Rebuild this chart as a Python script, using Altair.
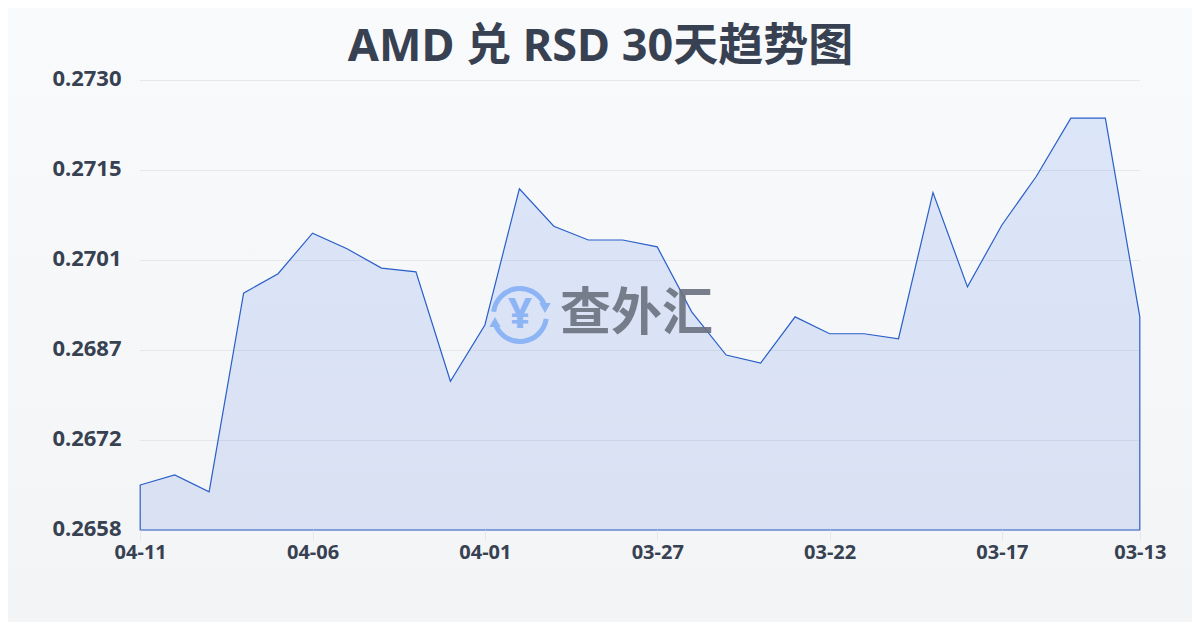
import altair as alt
import pandas as pd

dates = ["04-11","04-10","04-09","04-08","04-07","04-06","04-05","04-04","04-03","04-02",
         "04-01","03-31","03-30","03-29","03-28","03-27","03-26","03-25","03-24","03-23",
         "03-22","03-21","03-20","03-19","03-18","03-17","03-16","03-15","03-14","03-13"]
values = [0.26652,0.26668,0.26641,0.26959,0.26990,0.27055,0.27030,0.26999,0.26993,0.26818,
          0.26908,0.27126,0.27066,0.27044,0.27044,0.27033,0.26929,0.26860,0.26847,0.26921,
          0.26894,0.26894,0.26886,0.27120,0.26969,0.27068,0.27146,0.27239,0.27239,0.26921]
x_ticks = ["04-11","04-06","04-01","03-27","03-22","03-17","03-13"]
y_ticks = [0.2658,0.26724,0.26868,0.27012,0.27156,0.2730]
y_labels = ["0.2658","0.2672","0.2687","0.2701","0.2715","0.2730"]
title_text = "AMD 兑 RSD 30天趋势图"
brand = "查外汇"

FONT = "Noto Sans, Noto Sans CJK SC"
W, H = 1000, 450
df = pd.DataFrame({"date": dates, "value": values})
yscale = alt.Scale(domain=[0.2658, 0.2730], nice=False, zero=False)

xenc = alt.X("date:N", sort=None, scale=alt.Scale(type="point", padding=0, range=[0.2, 999.8]),
             axis=alt.Axis(values=x_ticks, labelAngle=0, title=None, domain=False, zindex=1,
                           tickColor="#e5e7eb", tickSize=10, labelPadding=2, labelFont=FONT,
                           labelFontSize=20, labelFontWeight="bold", labelColor="#374151", grid=False))
label_expr = "[" + ",".join(f"'{s}'" for s in y_labels) + "][round((datum.value-0.2658)/0.00144)]"
yaxis = alt.Axis(values=y_ticks, labelExpr=label_expr, title=None, domain=False, ticks=False, zindex=1,
                 grid=False, labelPadding=19, labelOffset=-2, labelFont=FONT,
                 labelFontSize=22, labelFontWeight="bold", labelColor="#374151")
yenc = alt.Y("value:Q", stack=None, scale=yscale, axis=yaxis)

bg = alt.Chart(pd.DataFrame({"a": [0]})).mark_rect(
    clip=False,
    color=alt.Gradient(gradient="linear", x1=0, x2=0, y1=0, y2=1,
                       stops=[alt.GradientStop(color="#f8fafc", offset=0),
                              alt.GradientStop(color="#f3f4f6", offset=1)])
).encode(x=alt.value(-140), x2=alt.value(1060), y=alt.value(-80), y2=alt.value(550))

grid = alt.Chart(pd.DataFrame({"v": y_ticks})).mark_rule(color="#e5e7eb", strokeWidth=1, yOffset=0.5).encode(
    y=alt.Y("v:Q", scale=yscale, axis=yaxis)
)

area = alt.Chart(df).mark_area(
    stroke="#2a5fc9", strokeWidth=1.2,
    color=alt.Gradient(gradient="linear", x1=0, x2=0, y1=0, y2=1,
                       stops=[alt.GradientStop(color="#2563eb", offset=0),
                              alt.GradientStop(color="#2257d0", offset=1)]),
    fillOpacity=0.13
).encode(x=xenc, y=yenc, y2=alt.value(450))

title = alt.Chart(pd.DataFrame({"t": [title_text]})).mark_text(
    font=FONT, fontSize=45, fontWeight="bold", color="#374151", align="center", baseline="middle"
).encode(text="t:N", x=alt.value(460.5), y=alt.value(-33))

wm_text = alt.Chart(pd.DataFrame({"t": [brand]})).mark_text(
    font=FONT, fontSize=51, fontWeight="bold", color="#6b7280", opacity=0.9, align="left", baseline="middle"
).encode(text="t:N", x=alt.value(420), y=alt.value(235))

yen = alt.Chart(pd.DataFrame({"t": ["¥"]})).mark_text(
    font=FONT, fontSize=42, fontWeight="bold", color="#8db4f5", align="center", baseline="middle"
).encode(text="t:N", x=alt.value(380), y=alt.value(235))

ring = alt.Chart(pd.DataFrame({"s": [-1.45, 1.72], "e": [1.15, 4.3]})).mark_arc(
    innerRadius=24, outerRadius=29, color="#8db4f5"
).encode(theta=alt.Theta("s:Q", scale=None), theta2="e:Q", x=alt.value(380), y=alt.value(235))

arrow_r = alt.Chart(pd.DataFrame({"a": [0]})).mark_point(
    shape="triangle-down", filled=True, color="#8db4f5", size=130, opacity=1
).encode(x=alt.value(405), y=alt.value(228))
arrow_l = alt.Chart(pd.DataFrame({"a": [0]})).mark_point(
    shape="triangle-up", filled=True, color="#8db4f5", size=130, opacity=1
).encode(x=alt.value(355), y=alt.value(242))

chart = alt.layer(bg, grid, area, ring, arrow_r, arrow_l, yen, wm_text, title).properties(
    width=W, height=H,
    padding={"left": 132, "top": 72, "right": 52, "bottom": 92},
    autosize=alt.AutoSizeParams(type="none"),
    background="#f6f7f9",
).configure_view(stroke=None)

chart.save("out.html", embed_options={"renderer": "svg", "actions": False})
